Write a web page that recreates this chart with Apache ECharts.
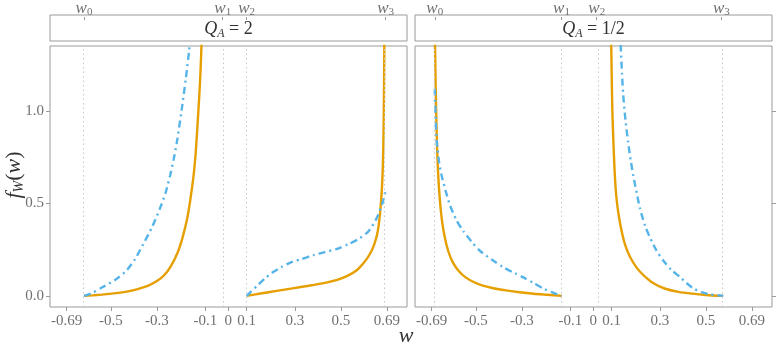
<!DOCTYPE html>
<html>
<head>
<meta charset="utf-8">
<script src="https://cdn.jsdelivr.net/npm/echarts@6/dist/echarts.min.js"></script>
<style>
html, body { margin: 0; padding: 0; background: #fff; }
#chart { width: 777px; height: 347px; }
</style>
</head>
<body>
<div id="chart"></div>
<script>
// tick positions on the w axis and their printed labels
let xTicks = [-0.693, -0.5, -0.3, -0.09, 0.01, 0.09, 0.3, 0.5, 0.7];
let xTickLabels = ['-0.69', '-0.5', '-0.3', '-0.1', '0', '0.1', '0.3', '0.5', '0.69'];
let yTicks = [0, 0.5, 1.0];
let panelTitles = ['2', '1/2'];
// w0..w3 for each panel
let wLeft = [-0.617, -0.014, 0.09, 0.694];
let wRight = [-0.679, -0.128, 0.025, 0.567];

// Q_A = 2
let leftOrangeA = [[-0.617,0],[-0.58,0.003],[-0.54,0.007],[-0.50,0.012],[-0.46,0.018],[-0.42,0.026],[-0.38,0.038],[-0.34,0.054],[-0.30,0.08],[-0.27,0.11],[-0.24,0.16],[-0.21,0.235],[-0.19,0.31],[-0.17,0.41],[-0.155,0.52],[-0.14,0.66],[-0.13,0.80],[-0.12,1.0],[-0.113,1.15],[-0.108,1.3],[-0.104,1.45]];
let leftBlueA = [[-0.617,0],[-0.584,0.014],[-0.534,0.049],[-0.48,0.088],[-0.432,0.138],[-0.395,0.2],[-0.36,0.279],[-0.322,0.37],[-0.287,0.473],[-0.263,0.555],[-0.243,0.65],[-0.228,0.735],[-0.214,0.827],[-0.193,1.003],[-0.174,1.18],[-0.16,1.33],[-0.154,1.42]];
let leftOrangeB = [[0.09,0],[0.15,0.013],[0.22,0.027],[0.29,0.041],[0.36,0.055],[0.42,0.068],[0.48,0.085],[0.53,0.11],[0.57,0.14],[0.60,0.18],[0.625,0.225],[0.645,0.28],[0.66,0.35],[0.67,0.45],[0.677,0.56],[0.682,0.7],[0.685,0.88],[0.687,1.1],[0.689,1.45]];
let leftBlueB = [[0.09,0],[0.11,0.025],[0.14,0.06],[0.17,0.095],[0.20,0.125],[0.24,0.155],[0.28,0.18],[0.33,0.2],[0.38,0.22],[0.43,0.237],[0.48,0.253],[0.53,0.278],[0.58,0.31],[0.62,0.35],[0.655,0.42],[0.68,0.5],[0.695,0.575]];

// Q_A = 1/2
let rightOrangeA = [[-0.679,1.45],[-0.676,1.2],[-0.673,1.0],[-0.669,0.8],[-0.664,0.65],[-0.657,0.52],[-0.648,0.41],[-0.636,0.32],[-0.62,0.24],[-0.60,0.18],[-0.575,0.135],[-0.545,0.1],[-0.51,0.075],[-0.47,0.055],[-0.42,0.04],[-0.37,0.03],[-0.31,0.02],[-0.25,0.012],[-0.19,0.006],[-0.127,0]];
let rightBlueA = [[-0.679,1.12],[-0.675,0.95],[-0.67,0.83],[-0.66,0.72],[-0.649,0.65],[-0.63,0.56],[-0.613,0.49],[-0.585,0.41],[-0.555,0.35],[-0.52,0.295],[-0.483,0.244],[-0.43,0.195],[-0.381,0.155],[-0.33,0.122],[-0.294,0.1],[-0.25,0.07],[-0.207,0.04],[-0.165,0.018],[-0.127,0]];
let rightOrangeB = [[0.087,1.45],[0.09,1.2],[0.093,1.0],[0.097,0.85],[0.103,0.67],[0.11,0.54],[0.12,0.44],[0.135,0.34],[0.15,0.27],[0.17,0.21],[0.2,0.15],[0.23,0.11],[0.27,0.07],[0.32,0.04],[0.38,0.022],[0.44,0.012],[0.5,0.005],[0.575,0]];
let rightBlueB = [[0.126,1.45],[0.13,1.33],[0.135,1.2],[0.14,1.09],[0.15,0.95],[0.162,0.827],[0.173,0.73],[0.184,0.65],[0.2,0.55],[0.213,0.473],[0.235,0.38],[0.257,0.314],[0.285,0.245],[0.314,0.191],[0.35,0.14],[0.387,0.102],[0.415,0.07],[0.445,0.041],[0.48,0.02],[0.52,0.008],[0.575,0]];

let chart = echarts.init(document.getElementById('chart'));
let font = 'Liberation Serif';
let textGrey = '#707070';
let borderGrey = '#9a9a9a';
let orange = '#E69F00';
let blue = '#56B4E9';

let bottomAxis = function(gridIndex) {
    return {
        type: 'value', gridIndex: gridIndex, position: 'bottom',
        min: -0.765, max: 0.787,
        axisLine: { show: false, onZero: false },
        splitLine: { show: false },
        axisTick: { customValues: xTicks, length: 4, lineStyle: { color: borderGrey } },
        axisLabel: {
            customValues: xTicks, fontFamily: font, fontSize: 15, color: textGrey, margin: 7,
            formatter: v => xTickLabels[xTicks.indexOf(v)]
        }
    };
};
let topAxis = function(gridIndex, ws) {
    return {
        type: 'value', gridIndex: gridIndex, position: 'top', offset: 26,
        min: -0.765, max: 0.787,
        axisLine: { show: false, onZero: false },
        splitLine: { show: false },
        axisTick: { customValues: ws, length: 3, lineStyle: { color: borderGrey } },
        axisLabel: {
            customValues: ws, margin: 2,
            formatter: v => '{w|w}{s|' + ws.indexOf(v) + '}',
            rich: {
                w: { fontFamily: font, fontStyle: 'italic', fontSize: 17, color: textGrey },
                s: { fontFamily: font, fontSize: 11, color: textGrey, verticalAlign: 'bottom', padding: [8, 0, 0, 0] }
            }
        }
    };
};
let yAxis = function(gridIndex, side) {
    return {
        type: 'value', gridIndex: gridIndex, position: side,
        min: -0.06, max: 1.351,
        axisLine: { show: false, onZero: false },
        splitLine: { show: false },
        axisTick: { customValues: yTicks, length: 4, lineStyle: { color: borderGrey } },
        axisLabel: {
            show: side == 'left', customValues: yTicks, fontFamily: font, fontSize: 15, color: textGrey, margin: 6,
            formatter: v => v.toFixed(1)
        }
    };
};
let dotted = function(ws) {
    return {
        symbol: 'none', silent: true, animation: false,
        label: { show: false },
        lineStyle: { color: '#c8c8c8', type: [1.5, 3], width: 1 },
        data: ws.map(v => ({ xAxis: v }))
    };
};
let curve = function(data, axis, color, dashed, ws) {
    let s = {
        type: 'line', data: data, xAxisIndex: axis, yAxisIndex: axis,
        showSymbol: false, smooth: 0.25, clip: true,
        lineStyle: { color: color, width: 2.4, type: dashed ? [7, 4, 2, 4] : 'solid', cap: 'butt' }
    };
    if (ws) s.markLine = dotted(ws);
    return s;
};
let stripText = function(cx, q) {
    return {
        type: 'text', x: cx, y: 29, z: 10,
        style: {
            text: '{q|Q}{a|A}{e| = ' + q + '}', align: 'center', verticalAlign: 'middle',
            rich: {
                q: { fontFamily: font, fontStyle: 'italic', fontSize: 18, fill: '#333' },
                a: { fontFamily: font, fontStyle: 'italic', fontSize: 12, fill: '#333', verticalAlign: 'bottom', padding: [9, 0, 0, 0] },
                e: { fontFamily: font, fontSize: 18, fill: '#333' }
            }
        }
    };
};

option = {
    backgroundColor: '#fff',
    animation: false,
    grid: [
        { left: 50, top: 41, width: 357, height: 266, show: true, borderColor: borderGrey, borderWidth: 1 },
        { left: 415, top: 41, width: 357, height: 266, show: true, borderColor: borderGrey, borderWidth: 1 }
    ],
    xAxis: [bottomAxis(0), bottomAxis(1), topAxis(0, wLeft), topAxis(1, wRight)],
    yAxis: [yAxis(0, 'left'), yAxis(1, 'right')],
    series: [
        curve(leftOrangeA, 0, orange, false, wLeft),
        curve(leftOrangeB, 0, orange, false),
        curve(leftBlueA, 0, blue, true),
        curve(leftBlueB, 0, blue, true),
        curve(rightOrangeA, 1, orange, false, wRight),
        curve(rightOrangeB, 1, orange, false),
        curve(rightBlueA, 1, blue, true),
        curve(rightBlueB, 1, blue, true)
    ],
    graphic: [
        { type: 'rect', shape: { x: 50, y: 15, width: 357, height: 26 }, style: { fill: '#fff', stroke: borderGrey, lineWidth: 1 } },
        { type: 'rect', shape: { x: 415, y: 15, width: 357, height: 26 }, style: { fill: '#fff', stroke: borderGrey, lineWidth: 1 } },
        stripText(228.5, panelTitles[0]),
        stripText(593.5, panelTitles[1]),
        {
            type: 'text', x: 406, y: 336,
            style: { text: 'w', fontFamily: font, fontStyle: 'italic', fontSize: 22, fill: '#333', align: 'center', verticalAlign: 'middle' }
        },
        {
            type: 'text', x: 14, y: 175, rotation: Math.PI / 2,
            style: {
                text: '{f|f}{s|W}{p|(}{f|w}{p|)}', align: 'center', verticalAlign: 'middle',
                rich: {
                    f: { fontFamily: font, fontStyle: 'italic', fontSize: 22, fill: '#333' },
                    s: { fontFamily: font, fontStyle: 'italic', fontSize: 14, fill: '#333', verticalAlign: 'bottom', padding: [10, 0, 0, 0] },
                    p: { fontFamily: font, fontSize: 22, fill: '#333' }
                }
            }
        }
    ]
};
chart.setOption(option);
</script>
</body>
</html>
